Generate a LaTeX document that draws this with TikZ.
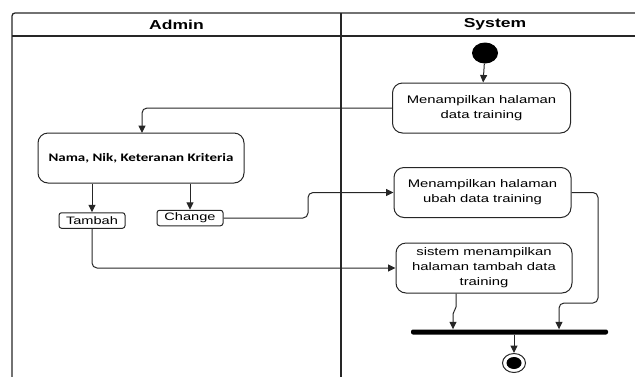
\documentclass[tikz,border=0pt]{standalone}
\usepackage{fontspec}
\usetikzlibrary{arrows.meta,shapes.geometric}
\newfontfamily\widesans[FakeStretch=1.35]{Liberation Sans}
\newfontfamily\widecal[FakeStretch=1.3]{Carlito}
\begin{document}
\begin{tikzpicture}[x=1pt,y=-1pt,
  lane/.style={line width=1.3pt,draw=black!85},
  flow/.style={line width=1pt,draw=black!85,rounded corners=5pt,
    -{Triangle[length=7.5pt,width=7pt]}},
  act/.style={draw=black!85,line width=1pt,rounded corners=10pt,
    minimum width=#1,minimum height=50pt,inner sep=0pt,align=center,
    font=\widesans\fontsize{11}{15}\selectfont},
  act/.default=178pt,
  tag/.style={draw=black!85,line width=1pt,rounded corners=2.5pt,
    minimum width=66pt,minimum height=15.5pt,inner sep=0pt,
    font=\widesans\fontsize{10.8}{12}\selectfont},
  lanehead/.style={font=\widesans\bfseries\fontsize{13}{15}\selectfont}]
\useasboundingbox (0,0) rectangle (635,376);

% swimlane frame
\begin{scope}
  \clip (0,0) rectangle (635,376);
  \draw[lane,rounded corners=3pt] (12,380) -- (12,13) -- (640,13);
  \draw[lane] (12,36) -- (640,36);
  \draw[lane] (341,13) -- (341,380);
\end{scope}
\node[lanehead] (hadmin) at (176.5,24.5) {Admin};
\node[lanehead] (hsystem) at (495,24.5) {System};

% nodes
\node[ellipse,fill=black,minimum width=26pt,minimum height=21pt,inner sep=0pt] (start) at (485,53) {};
\node[act] (show) at (481.5,108) {Menampilkan halaman\\data training};
\node[act=206pt,font=\widecal\bfseries\fontsize{11.5}{13}\selectfont] (form) at (141,158) {\raisebox{1.5pt}{Nama, Nik, Keteranan Kriteria}};
\node[tag] (tambah) at (92,220.5) {\raisebox{-1pt}{Tambah}};
\node[tag] (change) at (190,218) {Change};
\node[act=177pt] (ubah) at (482.5,192.5) {Menampilkan halaman\\ubah data training};
\node[act=176pt] (tambahpg) at (484,268) {sistem menampilkan\\halaman tambah data\\training};
\node[fill=black,minimum width=197pt,minimum height=5pt,inner sep=0pt,rounded corners=2pt] (join) at (509.5,332) {};
\node[ellipse,draw=black!85,line width=1pt,minimum width=23pt,minimum height=19pt,inner sep=0pt] (end) at (514,363) {};
\node[ellipse,fill=black,minimum width=15pt,minimum height=12pt,inner sep=0pt] (endin) at (end.center) {};

% helper points
\coordinate (jogA) at (456,309);
\coordinate (jogB) at (453,312);
\coordinate (sideA) at (598,303);
\coordinate (sideB) at (559,303);

% connectors
\draw[flow] (start) -- (show);
\draw[flow] (show.west) -| (142,133);
\draw[flow] (form.south -| tambah.north) -- (tambah.north);
\draw[flow] (form.south -| change.north) -- (change.north);
\draw[flow] (change.east) -- (308,218) -- (308,192.5) -- (ubah.west);
\draw[flow] (tambah.south) |- (tambahpg.west);
\draw[flow,rounded corners=2pt] (tambahpg.south -| jogA) -- (jogA) -- (jogB) -- (jogB |- join.north);
\draw[flow] (ubah.east) -| (sideA) -- (sideB) -- (sideB |- join.north);
\draw[flow] (join.south -| end.north) -- (end.north);
\end{tikzpicture}
\end{document}
